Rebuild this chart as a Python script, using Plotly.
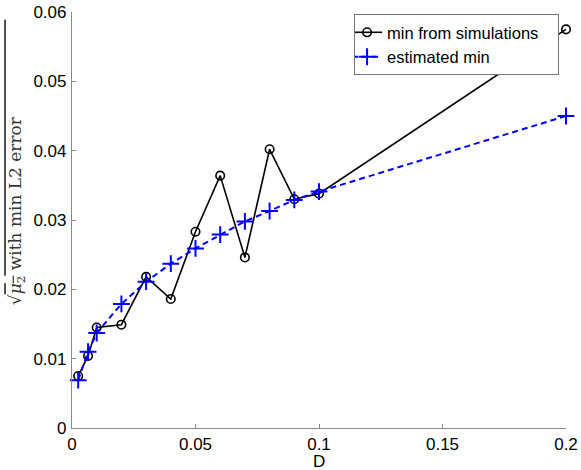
import plotly.graph_objects as go

D_sim = [0.0025, 0.0065, 0.01, 0.02, 0.03, 0.04, 0.05, 0.06, 0.07, 0.08, 0.09, 0.1, 0.2]
min_sim = [0.0075, 0.0104, 0.0145, 0.0149, 0.0218, 0.0186, 0.0283, 0.0364, 0.0246, 0.0402, 0.0330, 0.0338, 0.0575]

D_est = [0.0025, 0.0065, 0.01, 0.02, 0.03, 0.04, 0.05, 0.06, 0.07, 0.08, 0.09, 0.1, 0.2]
min_est = [0.0069, 0.0110, 0.0137, 0.0179, 0.0211, 0.0237, 0.0259, 0.0279, 0.0298, 0.0313, 0.0329, 0.0341, 0.0450]

x_ticks = [0, 0.05, 0.1, 0.15, 0.2]
x_labels = ["0", "0.05", "0.1", "0.15", "0.2"]
y_ticks = [0, 0.01, 0.02, 0.03, 0.04, 0.05, 0.06]
y_labels = ["0", "0.01", "0.02", "0.03", "0.04", "0.05", "0.06"]

SANS = "Liberation Sans, Arial, Helvetica, sans-serif"

fig = go.Figure()
fig.add_trace(go.Scatter(
    x=D_sim, y=min_sim, mode="lines+markers", name="min from simulations\u00a0\u00a0\u00a0",
    line=dict(color="black", width=1.6),
    marker=dict(symbol="circle-open", size=8.5, color="black", line=dict(width=1.6)),
    cliponaxis=False,
))
fig.add_trace(go.Scatter(
    x=D_est, y=min_est, mode="lines+markers", name="estimated min",
    line=dict(color="#0000ff", width=2, dash="6px,4px"),
    marker=dict(symbol="cross-thin-open", size=12, color="#0000ff", line=dict(width=2, color="#0000ff")),
    cliponaxis=False,
))

axis_common = dict(
    showgrid=False, zeroline=False, showline=True, linecolor="#888888", linewidth=1.2,
    ticks="inside", ticklen=4, tickcolor="#888888", tickwidth=1,
    tickfont=dict(family=SANS, size=17, color="black"),
    mirror=False, automargin=False,
)

fig.update_layout(
    width=581, height=470,
    margin=dict(l=72, r=15, t=12, b=42),
    paper_bgcolor="white", plot_bgcolor="white",
    showlegend=True,
    legend=dict(
        x=0.571, y=0.995, xanchor="left", yanchor="top",
        bgcolor="white", bordercolor="#777777", borderwidth=1,
        font=dict(family=SANS, size=16.5, color="black"),
        tracegroupgap=0, itemwidth=30, indentation=-8,
    ),
    xaxis=dict(range=[0, 0.2], tickvals=x_ticks, ticktext=x_labels, ticklabelstandoff=0, **axis_common),
    yaxis=dict(range=[0, 0.06], tickvals=y_ticks, ticktext=y_labels, ticklabelstandoff=1, **axis_common),
    annotations=[
        dict(
            text="√<span style='text-decoration:overline'><i>μ</i><sub>2</sub> with min L2 error"
                 + "\u00a0" * 18 + "</span>",
            xref="paper", yref="paper", x=-0.112, y=(428 - 307) / 416,
            xanchor="center", yanchor="bottom",
            textangle=-90, showarrow=False,
            font=dict(family="DejaVu Serif, Liberation Serif, serif", size=17, color="#333333"),
        ),
        dict(
            text="D", xref="paper", yref="paper", x=0.5, y=(428 - 461) / 416,
            xanchor="center", yanchor="middle", showarrow=False,
            font=dict(family=SANS, size=17, color="black"),
        ),
    ],
)

fig.write_html("out.html")
